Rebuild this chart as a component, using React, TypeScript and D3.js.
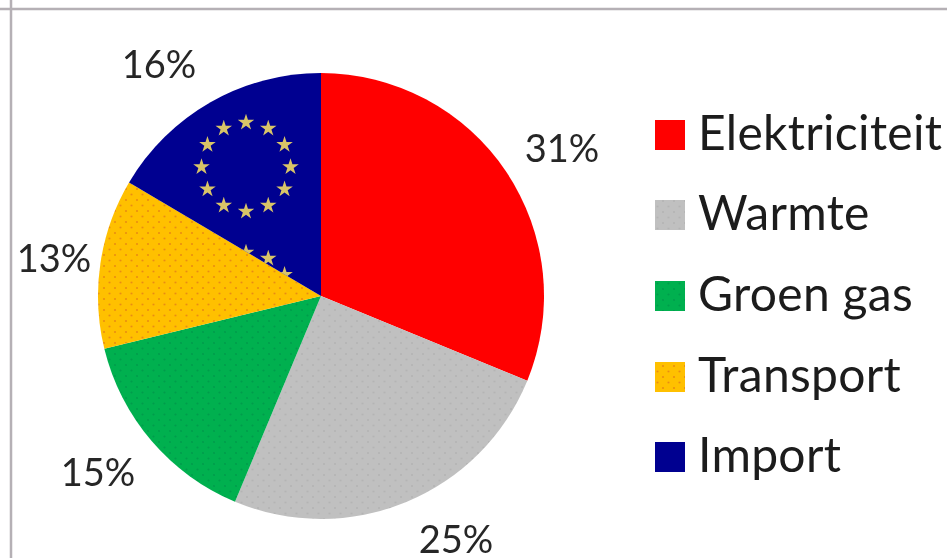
import React from "react";
import * as d3 from "d3";

const categories = ["Elektriciteit", "Warmte", "Groen gas", "Transport", "Import"];
const sliceShares = [31.2, 25.1, 14.9, 12.3, 16.5];
const labels = ["31%", "25%", "15%", "13%", "16%"];
const fills = ["#ff0000", "url(#dotGrey)", "url(#dotGreen)", "url(#dotGold)", "#000090"];
const labelPos: [number, number][] = [[562, 162], [456, 553], [98, 486], [54, 272], [159, 78]];
const legendY = [120, 200, 281, 362, 442];
const ringAngles = d3.range(12);

const W = 947, H = 558, CX = 321, CY = 296, R = 223;
const FONT = "Lato, 'Open Sans', sans-serif";

const star = d3.symbol().type(d3.symbolStar).size(85)() as string;

function Ring({ cx, cy }: { cx: number; cy: number }) {
  const a = d3.scaleLinear().domain([0, 12]).range([0, 2 * Math.PI]);
  return (
    <g>
      {ringAngles.map((i) => (
        <path key={i} d={star} fill="#d8c468"
          transform={`translate(${cx + 44.5 * Math.sin(a(i))},${cy - 44.5 * Math.cos(a(i))})`} />
      ))}
    </g>
  );
}

function Dots({ id, bg, dot, op }: { id: string; bg: string; dot: string; op: number }) {
  return (
    <pattern id={id} width="11" height="11" patternUnits="userSpaceOnUse">
      <rect width="11" height="11" fill={bg} />
      <circle cx="3" cy="3" r="1.1" fill={dot} opacity={op} />
      <circle cx="8.5" cy="8.5" r="1.1" fill={dot} opacity={op} />
    </pattern>
  );
}

export default function App() {
  const pie = d3.pie<number>().sort(null).value((d) => d);
  const arcs = pie(sliceShares);
  const arc = d3.arc<d3.PieArcDatum<number>>().innerRadius(0).outerRadius(R);
  const importArc = arc(arcs[4]) as string;
  return (
    <svg width={W} height={H} viewBox={`0 0 ${W} ${H}`}
      style={{ position: "absolute", left: 0, top: 0, background: "#fff" }}>
      <defs>
        <Dots id="dotGrey" bg="#c0c0c0" dot="#a8a8a8" op={0.5} />
        <Dots id="dotGreen" bg="#00b050" dot="#008f48" op={0.6} />
        <Dots id="dotGold" bg="#ffc000" dot="#e88a10" op={0.9} />
        <clipPath id="importClip">
          <path d={importArc} transform={`translate(${CX},${CY})`} />
        </clipPath>
        <filter id="soft" x="0" y="0" width="100%" height="100%">
          <feGaussianBlur stdDeviation="0.55" />
        </filter>
      </defs>
      <g filter="url(#soft)">
        <rect width={W} height={H} fill="#fff" />
        <line x1={0} x2={W} y1={9} y2={9} stroke="#b5b0b5" strokeWidth={2.5} />
        <line x1={11} x2={11} y1={0} y2={H} stroke="#b5b0b5" strokeWidth={2.5} />
        <g transform={`translate(${CX},${CY})`}>
          {arcs.map((d, i) => (
            <path key={categories[i]} d={arc(d) as string} fill={fills[i]} />
          ))}
        </g>
        <g clipPath="url(#importClip)">
          <Ring cx={246} cy={167} />
          <Ring cx={246} cy={297} />
        </g>
        {labels.map((t, i) => (
          <text key={t} x={labelPos[i][0]} y={labelPos[i][1]} textAnchor="middle"
            fontFamily={FONT} fontSize={38} fill="#262626">{t}</text>
        ))}
        {categories.map((c, i) => (
          <g key={c}>
            <rect x={655} y={legendY[i]} width={30} height={30} fill={fills[i]} />
            <text x={698} y={legendY[i] + 30} fontFamily={FONT} fontSize={48} letterSpacing={0.3} fill="#1a1a1a">{c}</text>
          </g>
        ))}
      </g>
    </svg>
  );
}
